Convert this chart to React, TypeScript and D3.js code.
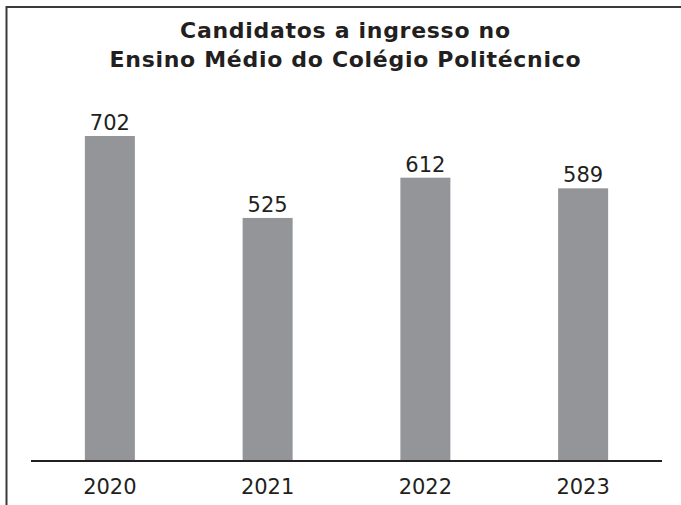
import React from "react";
import * as d3 from "d3";

const titleLines = ["Candidatos a ingresso no", "Ensino Médio do Colégio Politécnico"];
const years = ["2020", "2021", "2022", "2023"];
const candidates = [702, 525, 612, 589];

const W = 681;
const H = 505;
const axisY = 461;
const textColor = "#231f20";
const barColor = "#939598";
const font = "'DejaVu Sans', Verdana, sans-serif";

export default function App() {
  const x = d3
    .scaleBand<string>()
    .domain(years)
    .range([31, 662])
    .paddingInner(0.683)
    .paddingOuter(0.3415);
  const y = d3.scaleLinear().domain([0, 702]).range([axisY, 136]);

  return (
    <svg
      width={W}
      height={H}
      style={{ position: "absolute", left: 0, top: 0, background: "#fff" }}
    >
      <line x1={6.5} y1={6} x2={6.5} y2={H} stroke="#3a3a3a" strokeWidth={2} />
      <line x1={6} y1={7} x2={W} y2={7} stroke="#3a3a3a" strokeWidth={2} />
      {titleLines.map((t, i) => (
        <text
          key={i}
          x={345.4}
          y={38 + i * 29}
          textAnchor="middle"
          fontFamily={font}
          fontWeight="bold"
          fontSize={22}
          letterSpacing={0.7}
          fill={textColor}
        >
          {t}
        </text>
      ))}
      {years.map((yr, i) => (
        <g key={yr}>
          <rect
            x={x(yr)}
            y={y(candidates[i])}
            width={x.bandwidth()}
            height={axisY - y(candidates[i])}
            fill={barColor}
          />
          <text
            x={(x(yr) as number) + x.bandwidth() / 2}
            y={y(candidates[i]) - 6}
            textAnchor="middle"
            fontFamily={font}
            fontSize={21}
            fill={textColor}
          >
            {candidates[i]}
          </text>
          <text
            x={(x(yr) as number) + x.bandwidth() / 2}
            y={494}
            textAnchor="middle"
            fontFamily={font}
            fontSize={21}
            fill={textColor}
          >
            {yr}
          </text>
        </g>
      ))}
      <line x1={31} y1={axisY} x2={662} y2={axisY} stroke={textColor} strokeWidth={2} />
    </svg>
  );
}
